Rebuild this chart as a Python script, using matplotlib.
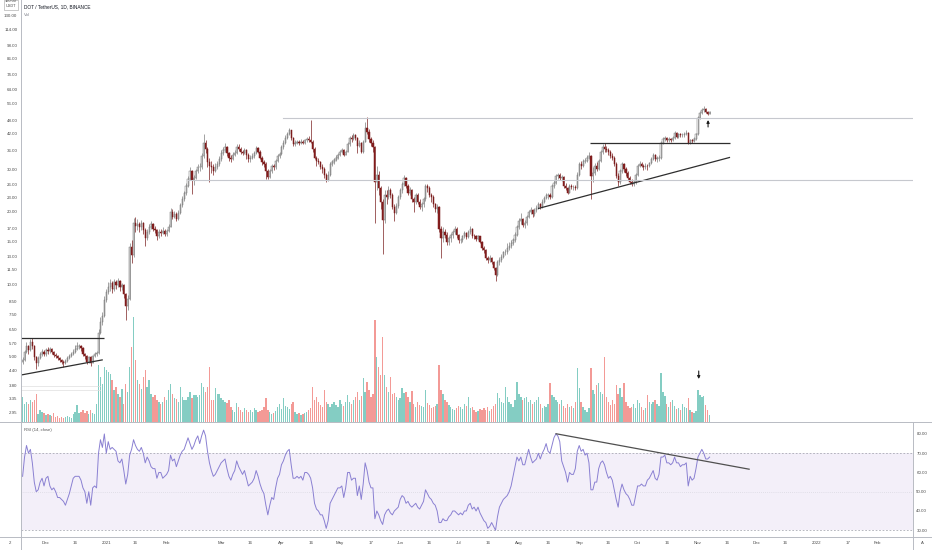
import numpy as np
import matplotlib
matplotlib.use("Agg")
import matplotlib.pyplot as plt
from matplotlib.patches import Rectangle
from matplotlib.ticker import NullLocator, NullFormatter

plt.rcParams["font.family"] = ["Liberation Sans", "DejaVu Sans"]

W, H = 932, 550

# DOT / TetherUS, 1D, BINANCE -- day 0 is 2020-11-19
first_open = 4.75
closes = [
    4.85, 5.25, 5.55, 5.35, 5.75, 5.55, 5.00, 4.70, 4.95, 5.15,
    5.25, 5.15, 5.35, 5.30, 5.40, 5.25, 5.10, 5.05, 4.95, 4.85,
    4.75, 4.70, 4.80, 4.95, 5.05, 5.15, 5.25, 5.40, 5.55, 5.55,
    5.45, 5.15, 5.05, 4.75, 5.00, 4.72, 5.05, 5.15, 5.20, 6.30,
    7.00, 7.40, 8.60, 9.30, 9.70, 10.10, 9.60, 10.20, 9.90, 10.30,
    9.70, 9.90, 9.10, 8.10, 8.70, 14.30, 13.20, 18.00, 17.40, 17.80,
    17.20, 17.90, 16.80, 15.60, 16.50, 17.30, 17.80, 17.00, 16.80, 15.80,
    16.50, 16.30, 16.70, 16.20, 16.60, 17.30, 20.00, 19.00, 19.60, 18.60,
    19.80, 21.30, 22.50, 23.80, 25.50, 27.20, 29.50, 27.00, 27.50, 29.50,
    30.50, 30.50, 34.00, 38.50, 36.50, 32.00, 31.00, 30.50, 29.50, 30.50,
    31.50, 33.00, 35.00, 36.00, 37.20, 35.00, 33.50, 33.00, 34.50, 35.00,
    37.20, 36.50, 35.50, 35.00, 36.00, 34.50, 33.00, 33.50, 34.00, 35.00,
    36.80, 35.50, 33.50, 32.00, 31.50, 29.50, 27.80, 29.50, 30.80, 30.50,
    32.50, 34.00, 34.80, 37.00, 38.50, 40.50, 42.00, 43.50, 40.50, 38.00,
    38.50, 38.80, 38.50, 39.00, 38.50, 39.50, 40.00, 39.80, 39.00, 36.50,
    33.50, 32.50, 32.00, 30.50, 30.00, 28.50, 27.00, 28.50, 31.50, 32.00,
    32.80, 33.50, 34.50, 35.50, 36.00, 34.50, 35.50, 38.00, 40.50, 40.00,
    41.50, 40.50, 37.50, 38.50, 35.50, 39.00, 44.50, 43.00, 40.00, 38.50,
    37.00, 26.50, 28.50, 25.00, 22.00, 18.50, 23.50, 23.00, 24.50, 23.50,
    21.00, 19.80, 21.20, 23.00, 24.50, 26.00, 27.50, 25.50, 24.00, 24.50,
    22.50, 22.00, 23.50, 22.00, 21.00, 21.50, 22.50, 25.50, 25.00, 23.50,
    23.00, 21.50, 20.50, 21.00, 17.00, 15.50, 16.50, 16.00, 15.00, 15.50,
    16.00, 16.50, 17.00, 16.00, 15.20, 15.30, 15.80, 16.30, 15.70, 16.40,
    17.00, 15.90, 15.80, 15.40, 15.80, 15.00, 14.20, 13.90, 12.90, 12.60,
    12.90, 12.40, 11.70, 10.90, 12.40, 12.60, 13.00, 13.60, 13.60, 14.20,
    14.40, 14.80, 15.20, 16.00, 17.20, 18.30, 18.60, 17.60, 17.90, 19.00,
    20.00, 20.40, 19.50, 20.30, 20.80, 21.50, 21.00, 22.00, 22.80, 23.40,
    23.50, 23.00, 25.50, 26.30, 28.00, 28.30, 27.60, 27.80, 25.50, 25.00,
    24.00, 25.50, 25.20, 25.30, 25.00, 28.50, 31.50, 31.00, 32.50, 32.50,
    33.50, 34.00, 28.00, 29.00, 31.00, 30.00, 32.50, 35.50, 37.00, 36.50,
    36.00, 35.50, 34.00, 33.50, 31.50, 28.00, 26.50, 29.50, 31.50, 30.00,
    29.00, 27.50, 26.50, 26.00, 26.50, 28.50, 31.00, 31.50, 31.00, 30.50,
    31.00, 30.80, 31.80, 33.00, 34.50, 33.00, 33.50, 33.50, 38.50, 40.00,
    40.50, 39.50, 40.00, 39.50, 40.50, 42.50, 41.00, 42.00, 41.50, 41.50,
    42.00, 42.50, 38.50, 39.50, 39.20, 40.00, 41.80, 49.00, 51.50, 53.00,
    53.50, 52.00, 51.00, 52.00,
]
highs = [
    5.00, 5.35, 5.75, 5.60, 5.90, 6.00, 5.60, 5.05, 5.05, 5.25,
    5.40, 5.35, 5.45, 5.50, 5.50, 5.45, 5.30, 5.20, 5.10, 5.00,
    4.90, 4.85, 4.90, 5.05, 5.15, 5.25, 5.40, 5.60, 5.75, 5.65,
    5.60, 5.50, 5.20, 5.10, 5.05, 5.05, 5.10, 5.25, 5.30, 6.50,
    7.30, 7.70, 8.90, 9.60, 10.20, 10.50, 10.30, 10.50, 10.40, 10.60,
    10.40, 10.10, 10.00, 9.20, 9.00, 14.80, 15.20, 18.80, 19.00, 18.60,
    18.20, 18.50, 18.20, 17.10, 16.90, 17.80, 18.30, 18.00, 17.40, 17.00,
    16.90, 17.00, 17.20, 16.90, 17.00, 17.80, 20.80, 20.60, 20.20, 19.90,
    20.30, 21.80, 23.20, 24.30, 26.20, 28.00, 30.50, 29.80, 28.30, 30.20,
    31.50, 31.80, 35.00, 42.00, 39.50, 37.00, 33.50, 32.50, 31.50, 31.80,
    32.50, 34.00, 36.00, 37.00, 38.50, 37.50, 35.50, 34.50, 35.20, 36.00,
    38.00, 38.00, 37.00, 36.20, 36.80, 36.50, 35.00, 34.20, 35.00, 35.80,
    37.50, 37.20, 36.00, 34.00, 32.80, 32.00, 30.00, 30.00, 31.50, 31.50,
    33.00, 34.80, 35.50, 37.80, 39.50, 41.50, 43.00, 44.50, 43.80, 41.00,
    39.50, 39.80, 39.50, 40.00, 39.80, 40.20, 41.00, 41.20, 48.00, 39.50,
    37.00, 34.00, 33.50, 32.50, 31.50, 30.50, 29.00, 29.50, 32.00, 32.80,
    33.50, 34.20, 35.00, 36.20, 36.80, 36.50, 36.00, 38.80, 41.20, 41.50,
    42.20, 42.00, 41.00, 39.50, 39.00, 39.50, 47.00, 49.50, 44.00, 41.00,
    39.50, 37.50, 31.00, 29.50, 25.50, 22.50, 24.50, 24.50, 25.50, 25.00,
    23.80, 21.50, 21.80, 23.50, 25.00, 26.50, 28.50, 27.80, 26.00, 25.20,
    24.80, 23.00, 24.00, 23.80, 22.50, 22.00, 23.00, 26.00, 26.00, 25.50,
    24.00, 23.50, 21.80, 21.50, 21.20, 17.50, 17.20, 17.00, 16.50, 15.80,
    16.30, 16.80, 17.40, 17.20, 16.20, 15.60, 16.00, 16.60, 16.40, 16.80,
    17.50, 17.10, 16.20, 16.00, 16.00, 15.90, 15.10, 14.40, 14.00, 13.10,
    13.20, 13.00, 12.50, 11.80, 12.60, 13.00, 13.30, 13.80, 14.00, 14.80,
    14.90, 15.20, 15.60, 16.40, 17.60, 18.80, 19.80, 18.80, 18.40, 19.40,
    20.40, 21.00, 20.60, 20.80, 21.30, 22.00, 21.80, 22.50, 23.30, 24.00,
    24.00, 24.00, 26.00, 27.00, 28.60, 29.00, 28.80, 28.40, 28.00, 26.20,
    25.20, 26.00, 26.00, 25.80, 25.80, 29.20, 32.20, 32.50, 33.20, 33.50,
    34.20, 35.50, 34.50, 30.50, 31.80, 32.00, 33.00, 36.20, 38.00, 38.50,
    37.50, 36.80, 36.00, 35.00, 34.00, 32.00, 29.00, 30.20, 32.00, 31.80,
    30.50, 29.50, 28.00, 27.20, 27.00, 29.00, 31.50, 32.30, 32.00, 31.50,
    31.80, 31.60, 32.20, 33.60, 35.00, 34.80, 34.00, 34.20, 39.20, 40.80,
    41.20, 41.00, 40.80, 40.50, 41.20, 43.20, 42.80, 42.50, 42.50, 42.20,
    42.80, 43.50, 43.00, 40.20, 40.00, 40.80, 42.20, 50.00, 52.20, 53.80,
    55.00, 54.00, 52.50, 52.50,
]
lows = [
    4.65, 4.80, 5.20, 5.15, 5.30, 5.40, 4.85, 4.45, 4.60, 4.90,
    5.05, 5.05, 5.05, 5.15, 5.20, 5.15, 5.00, 4.95, 4.85, 4.75,
    4.65, 4.55, 4.65, 4.75, 4.90, 5.00, 5.10, 5.20, 5.35, 5.40,
    5.30, 5.05, 4.90, 4.65, 4.70, 4.60, 4.70, 5.00, 5.05, 5.15,
    6.20, 6.80, 7.30, 8.40, 9.10, 9.40, 9.20, 9.40, 9.60, 9.70,
    9.40, 9.50, 8.80, 7.10, 7.80, 8.60, 12.30, 13.00, 16.50, 16.80,
    16.50, 16.80, 16.20, 14.40, 15.20, 16.20, 17.00, 16.60, 16.30, 15.30,
    15.50, 15.90, 16.10, 15.80, 15.90, 16.40, 17.20, 18.60, 18.80, 18.30,
    18.40, 19.60, 21.00, 22.20, 23.50, 25.20, 27.00, 23.60, 25.80, 27.20,
    29.00, 29.50, 30.20, 33.50, 35.00, 30.50, 26.60, 29.00, 28.50, 29.20,
    30.00, 31.00, 32.50, 34.50, 35.50, 34.00, 32.50, 32.00, 32.80, 34.00,
    34.80, 35.80, 34.80, 34.20, 34.80, 33.00, 32.20, 32.00, 33.00, 33.50,
    34.80, 35.00, 33.00, 31.20, 30.50, 27.30, 27.30, 27.50, 29.00, 29.80,
    30.00, 32.00, 33.50, 34.50, 36.50, 38.00, 40.00, 41.50, 39.80, 37.50,
    37.50, 38.00, 37.80, 38.00, 38.00, 38.20, 39.00, 39.00, 38.50, 35.50,
    33.00, 31.00, 31.50, 30.00, 29.00, 27.50, 26.50, 26.80, 28.20, 31.00,
    31.50, 32.50, 33.00, 34.00, 35.00, 34.00, 34.20, 35.20, 37.50, 39.00,
    39.50, 39.80, 35.00, 37.00, 35.00, 35.00, 38.80, 42.00, 39.00, 37.50,
    35.50, 18.00, 24.50, 23.50, 20.50, 13.40, 18.00, 21.50, 22.50, 22.80,
    20.50, 18.30, 19.50, 20.80, 22.50, 24.00, 25.50, 25.00, 23.50, 23.50,
    22.00, 20.00, 21.50, 21.50, 20.50, 20.20, 21.00, 22.20, 24.20, 23.00,
    22.00, 21.00, 20.00, 19.80, 16.50, 12.90, 15.00, 15.50, 14.60, 14.50,
    15.00, 15.50, 16.20, 15.60, 14.80, 14.80, 15.00, 15.60, 15.40, 15.50,
    16.20, 15.60, 15.40, 15.10, 15.20, 14.80, 13.90, 13.50, 12.60, 12.20,
    12.40, 12.10, 11.50, 10.30, 10.80, 12.00, 12.40, 12.80, 13.20, 13.40,
    13.90, 14.20, 14.60, 15.00, 15.80, 17.00, 17.80, 17.20, 17.10, 17.60,
    18.80, 19.60, 19.00, 19.20, 20.00, 20.50, 20.60, 20.80, 21.80, 22.50,
    22.50, 22.60, 22.80, 25.00, 26.00, 27.20, 27.00, 26.80, 25.00, 24.50,
    23.60, 23.80, 24.80, 24.60, 24.50, 24.80, 28.00, 30.00, 30.50, 31.80,
    32.00, 33.00, 22.50, 26.50, 28.50, 29.50, 29.80, 32.00, 34.80, 35.50,
    35.20, 34.50, 33.50, 32.80, 31.00, 27.50, 25.50, 26.00, 29.00, 29.20,
    28.20, 27.00, 26.00, 25.50, 25.50, 26.00, 28.20, 30.50, 30.50, 29.80,
    30.00, 29.80, 30.50, 31.50, 32.80, 32.50, 32.20, 32.50, 33.20, 38.00,
    39.20, 39.00, 39.00, 38.80, 39.20, 40.20, 40.50, 40.50, 41.00, 40.80,
    41.00, 41.50, 38.00, 38.00, 38.50, 38.80, 39.80, 41.50, 48.50, 50.80,
    52.00, 51.20, 50.20, 50.80,
]
# volume, in millions
volumes = [
    25, 18, 20, 18, 22, 20, 22, 28, 8, 12,
    10, 9, 7, 8, 7, 6, 9, 5, 6, 4,
    5, 4, 5, 6, 5, 4, 8, 10, 17, 9,
    10, 12, 9, 11, 8, 12, 9, 8, 18, 57,
    45, 38, 55, 52, 50, 48, 42, 32, 35, 28,
    25, 33, 18, 38, 30, 55, 75, 105, 62, 42,
    38, 33, 45, 52, 35, 42, 28, 25, 27, 22,
    20, 18, 20, 25, 22, 32, 38, 28, 24, 23,
    20, 35, 25, 22, 22, 25, 30, 24, 27, 27,
    25, 27, 39, 35, 30, 35, 55, 22, 22, 34,
    28, 28, 24, 22, 20, 19, 22, 15, 12, 10,
    19, 15, 12, 10, 14, 12, 10, 12, 10, 14,
    12, 10, 11, 12, 15, 24, 12, 10, 8, 9,
    11, 15, 18, 13, 24, 16, 15, 13, 18, 20,
    10, 8, 9, 7, 8, 9, 10, 12, 14, 35,
    22, 25, 20, 17, 15, 32, 20, 18, 15, 18,
    20, 17, 15, 22, 18, 16, 20, 27, 20, 18,
    22, 25, 30, 22, 26, 44, 30, 40, 32, 25,
    28, 102, 65, 55, 47, 85, 47, 35, 30, 45,
    28, 29, 25, 22, 24, 34, 29, 30, 25, 20,
    31, 18, 15, 20, 17, 16, 15, 32, 19, 17,
    14, 15, 16, 18, 57, 32, 28, 22, 20, 17,
    15, 13, 12, 14, 16, 15, 13, 18, 16, 25,
    14, 15, 12, 10, 11, 13, 12, 14, 12, 15,
    11, 13, 16, 18, 29, 24, 20, 19, 35, 25,
    20, 18, 15, 22, 40, 28, 25, 22, 24, 25,
    20, 22, 18, 20, 22, 25, 18, 14, 16, 15,
    18, 39, 27, 25, 22, 20, 18, 22, 16, 14,
    18, 15, 16, 14, 20, 54, 34, 20, 15, 12,
    10, 14, 54, 32, 28, 37, 39, 30, 28, 65,
    25, 20, 17, 22, 18, 37, 28, 34, 25, 39,
    20, 16, 14, 15, 18, 14, 22, 19, 15, 12,
    14, 27, 20, 18, 20, 22, 18, 16, 49, 30,
    26, 18, 15, 20, 22, 16, 13, 14, 12, 18,
    15, 14, 24, 12, 10, 9, 11, 32, 27, 25,
    26, 17, 12, 7,
]
rsi = [
    58, 68, 74, 70, 72, 65, 55, 50, 51, 55,
    57, 53, 57, 58, 53, 51, 52, 50, 47, 47,
    46, 45, 43, 46, 49, 53, 57, 58, 58, 58,
    56, 52, 50, 44, 50, 43, 52, 53, 52, 70,
    77, 73, 80, 70, 76, 72, 73, 72, 71, 66,
    65, 67, 61, 54, 59, 69, 72, 77, 74, 72,
    71, 73, 70, 65, 68, 66, 63, 62, 62, 57,
    60, 60, 57, 58, 59, 61, 69, 66, 67, 63,
    66, 69, 71, 72, 75, 78, 75, 72, 74, 77,
    79, 75, 79, 82, 79, 71, 65, 61, 58, 59,
    61, 63, 65, 66, 67, 62, 58, 56, 59, 61,
    66, 63, 61, 59, 61, 57, 53, 54, 55, 57,
    61, 58, 54, 51, 49, 43, 38, 43, 47, 46,
    52, 57, 59, 64, 66, 69, 71, 72, 64, 57,
    57, 58, 57, 58, 56, 60, 60, 59, 57, 52,
    44, 41, 40, 38, 38, 35, 31, 35, 44, 46,
    48, 50, 52, 52, 53, 47, 52, 60, 60, 56,
    57, 57, 48, 53, 46, 54, 65, 61, 55, 52,
    52, 36, 40, 38, 35, 33, 38, 40, 41, 39,
    38, 40, 41, 42, 46, 48, 47, 44, 45, 43,
    42, 43, 44, 42, 41, 43, 45, 51, 49, 47,
    46, 44, 43, 40, 34, 34, 36, 35, 35, 37,
    38, 40, 40, 39, 38, 39, 38, 40, 40, 43,
    44, 41, 42, 40, 42, 39, 37, 35, 34, 31,
    32, 34, 32, 30, 37, 42, 44, 46, 47, 48,
    50, 53, 58, 63, 68, 66, 68, 64, 64, 68,
    72, 68, 65, 66, 67, 70, 67, 70, 72, 75,
    71, 70, 74, 78, 80, 79, 76, 66, 63, 60,
    55, 60, 59, 59, 62, 71, 74, 71, 72, 69,
    70, 65, 51, 51, 55, 55, 62, 65, 66, 64,
    60, 57, 58, 56, 51, 46, 42, 50, 54, 51,
    49, 48, 46, 43, 43, 48, 53, 53, 54, 53,
    53, 56, 57, 59, 61, 57, 56, 59, 68, 68,
    69, 65, 65, 64, 65, 68, 65, 65, 63, 64,
    64, 65, 53, 58, 56, 57, 62, 68, 70, 72,
    70, 67, 67, 68,
]

price_ticks = [130, 114, 98, 86, 74, 64, 56, 48, 42, 36, 30, 26, 23, 20,
               17, 15, 13, 11.5, 10, 8.5, 7.5, 6.5, 5.7, 5.0, 4.4, 3.8, 3.35, 2.95]
rsi_ticks = [80, 70, 60, 50, 40, 30]
date_ticks = [12, 27, 43, 58, 74, 102, 117, 133, 148, 163, 179, 194, 209, 224,
              239, 255, 270, 286, 301, 316, 331, 347, 362, 377, 392, 408, 424, 439]
date_labels = ["Dec", "16", "2021", "16", "Feb", "Mar", "16", "Apr", "16", "May",
               "17", "Jun", "16", "Jul", "16", "Aug", "16", "Sep", "16", "Oct",
               "16", "Nov", "16", "Dec", "16", "2022", "17", "Feb"]

# drawings on the chart: (day, price) end points
box_top = [(-1, 5.97), (41.8, 5.97)]
box_bottom = [(-1, 4.20), (41.2, 4.86)]
resist_high = [(133.8, 48.9), (457.5, 48.9)]
support_mid = [(85, 27.1), (457.5, 27.1)]
faint_lines = [[(-1, 3.79), (40, 3.79)], [(-1, 3.64), (40, 3.64)]]
rising_support = [(264.8, 20.6), (363.5, 33.6)]
flat_top = [(291.6, 38.7), (363.5, 38.7)]
rsi_trend = [(274.1, 80.1), (373.3, 61.7)]

n = len(closes)
assert len(highs) == n and len(lows) == n and len(volumes) == n and len(rsi) == n

days = np.arange(n)
closes = np.array(closes)
opens = np.r_[first_open, closes[:-1]]
highs = np.maximum(np.array(highs), np.maximum(opens, closes))
lows = np.minimum(np.array(lows), np.minimum(opens, closes))
up = closes >= opens

fig = plt.figure(figsize=(W / 100, H / 100), dpi=100)


def px_axes(x0, y0, x1, y1):
    return fig.add_axes([x0 / W, 1 - y1 / H, (x1 - x0) / W, (y1 - y0) / H])


xlim = (-0.98, 457.5)
label_kw = dict(labelsize=3.2, labelcolor="#4a4a4a", length=0)

# price pane
ax = px_axes(20.7, 0, 913, 422)
ax.set_yscale("log")
ax.set_xlim(*xlim)
ax.set_ylim(2.683, 151.0)

# volume underneath the candles
ax_vol = ax.twinx()
ax_vol.bar(days, volumes, width=0.7, color=np.where(up, "#84cdc3", "#f39a96"), linewidth=0)
ax_vol.set_ylim(0, 422)
ax_vol.axis("off")
ax.set_zorder(ax_vol.get_zorder() + 1)
ax.patch.set_visible(False)

ax.vlines(days, lows, highs, color=np.where(up, "#7d7d7d", "#7a1f1f"), lw=0.5)
ax.bar(days[up], (closes - opens)[up], bottom=opens[up], width=0.62,
       color="white", edgecolor="#707070", linewidth=0.35)
ax.bar(days[~up], (opens - closes)[~up], bottom=closes[~up], width=0.62,
       color="#8b1e1e", edgecolor="#7a1818", linewidth=0.35)

for seg in (box_top, box_bottom, rising_support, flat_top):
    (x0, y0), (x1, y1) = seg
    ax.plot([x0, x1], [y0, y1], color="#2e2e2e", lw=0.9, solid_capstyle="butt")
for seg in (resist_high, support_mid):
    (x0, y0), (x1, y1) = seg
    ax.plot([x0, x1], [y0, y1], color="#c6c8ce", lw=0.8)
for seg in faint_lines:
    (x0, y0), (x1, y1) = seg
    ax.plot([x0, x1], [y0, y1], color="#dedede", lw=0.5)

ax.annotate("", xy=(352.2, 48.0), xytext=(352.2, 44.9),
            arrowprops=dict(arrowstyle="-|>", color="#1e1e1e", lw=0.8,
                            mutation_scale=4, shrinkA=0, shrinkB=0))
ax_vol.annotate("", xy=(347.4, 43), xytext=(347.4, 51),
                arrowprops=dict(arrowstyle="-|>", color="#1e1e1e", lw=0.8,
                                mutation_scale=4, shrinkA=0, shrinkB=0))

ax.set_yticks(price_ticks)
ax.set_yticklabels([f"{t:.2f}" for t in price_ticks])
ax.yaxis.set_minor_locator(NullLocator())
ax.yaxis.set_minor_formatter(NullFormatter())
ax.tick_params(axis="y", pad=2.4, **label_kw)
ax.tick_params(axis="x", bottom=False, labelbottom=False)
for s in ax.spines.values():
    s.set_visible(False)

# RSI pane
ax_rsi = px_axes(20.7, 422, 913, 537)
ax_rsi.set_xlim(*xlim)
ax_rsi.set_ylim(26.5, 86.2)
ax_rsi.axhspan(30, 70, color="#7e57c2", alpha=0.09, lw=0)
ax_rsi.axhline(70, color="#9a9ca6", lw=0.5, ls=(0, (2.5, 2.5)))
ax_rsi.axhline(30, color="#9a9ca6", lw=0.5, ls=(0, (2.5, 2.5)))
ax_rsi.axhline(50, color="#cfcfd8", lw=0.5, ls=(0, (1, 2)))
ax_rsi.plot(days, rsi, color="#8a80d2", lw=0.7)
(x0, y0), (x1, y1) = rsi_trend
ax_rsi.plot([x0, x1], [y0, y1], color="#505050", lw=0.9)

ax_rsi.yaxis.tick_right()
ax_rsi.set_yticks(rsi_ticks)
ax_rsi.set_yticklabels([f"{t:.2f}" for t in rsi_ticks])
ax_rsi.tick_params(axis="y", pad=2.4, **label_kw)
ax_rsi.set_xticks(date_ticks)
ax_rsi.set_xticklabels(date_labels)
ax_rsi.tick_params(axis="x", pad=3.0, **label_kw)
for s in ax_rsi.spines.values():
    s.set_visible(False)

# pane borders
line_kw = dict(color="#b8bbc3", lw=0.7, transform=fig.transFigure)
fig.add_artist(plt.Line2D([20.7 / W] * 2, [0, 1], **line_kw))
fig.add_artist(plt.Line2D([913 / W] * 2, [0, 1 - 422 / H], **line_kw))
fig.add_artist(plt.Line2D([0, 1], [1 - 422 / H] * 2, **line_kw))
fig.add_artist(plt.Line2D([0, 1], [1 - 537 / H] * 2, **line_kw))

# header and pane labels
fig.text(24 / W, 1 - 7 / H, "DOT / TetherUS, 1D, BINANCE", fontsize=3.4,
         color="#131722", va="center")
fig.text(24 / W, 1 - 15 / H, "Vol", fontsize=3.1, color="#787b86", va="center")
fig.text(24 / W, 1 - 429.5 / H, "RSI (14, close)", fontsize=3.1, color="#555555", va="center")
fig.text(11 / W, 1 - 1.5 / H, "150.00", fontsize=2.8, color="#4a4a4a", ha="center", va="center")
fig.text(11 / W, 1 - 6 / H, "USDT", fontsize=2.8, color="#4a4a4a", ha="center", va="center")
fig.add_artist(Rectangle((4 / W, 1 - 9.5 / H), 14 / W, 10 / H, transform=fig.transFigure,
                         fill=False, ec="#a0a0a0", lw=0.4))
fig.text(10 / W, 1 - 543.5 / H, "2", fontsize=3.1, color="#4a4a4a", ha="center", va="center")
fig.text(922 / W, 1 - 543.5 / H, "A", fontsize=3.1, color="#4a4a4a", ha="center", va="center")

fig.savefig("out.png", dpi=100, facecolor="white")
